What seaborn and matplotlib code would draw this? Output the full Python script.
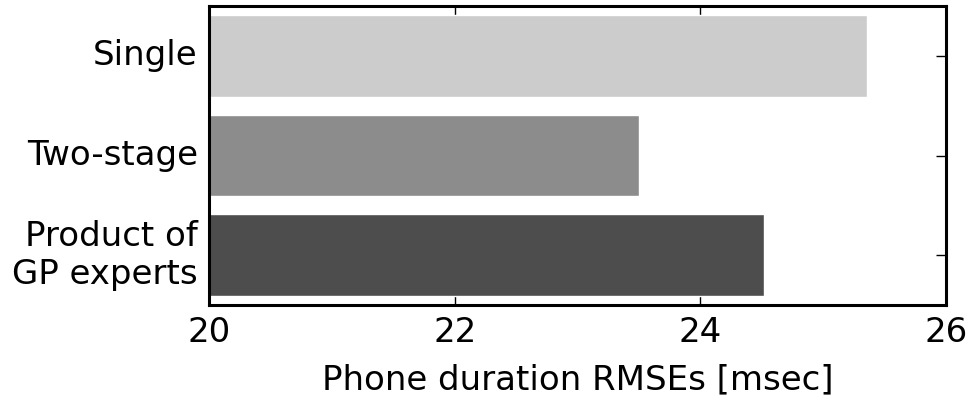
import matplotlib
matplotlib.use("Agg")
import matplotlib.pyplot as plt
import seaborn as sns
import pandas as pd

# RMSE of phone duration prediction for each modelling approach
methods = ["Single", "Two-stage", "Product of\nGP experts"]
rmse = [25.36, 23.50, 24.52]
bar_colors = ["#cccccc", "#8c8c8c", "#4d4d4d"]
x_ticks = [20, 22, 24, 26]

sns.set_style("white")
plt.rcParams["font.family"] = ["DejaVu Sans"]
plt.rcParams.update({
    "text.color": "black",
    "axes.labelcolor": "black",
    "xtick.color": "black",
    "ytick.color": "black",
})

df = pd.DataFrame({"method": methods, "rmse": rmse})

fig = plt.figure(figsize=(9.71, 4.0), dpi=100)
ax = fig.add_axes([0.2152, 0.2375, 0.7591, 0.7475])

sns.barplot(data=df, x="rmse", y="method", hue="method", palette=bar_colors,
            orient="h", width=0.82, saturation=1, legend=False, ax=ax)

ax.set_xlim(20, 26)
ax.set_ylim(2.5, -0.5)
ax.set_xticks(x_ticks)
ax.set_xticklabels([str(t) for t in x_ticks])
ax.set_xlabel("Phone duration RMSEs [msec]", fontsize=24.5, labelpad=10,
              color="black")
ax.set_ylabel("")

for s in ax.spines.values():
    s.set_visible(True)
    s.set_linewidth(2.2)
    s.set_color("black")
    s.set_zorder(5)

ax.tick_params(axis="both", which="major", direction="in", length=7.5, width=1,
               color="black", labelcolor="black", labelsize=24.5, pad=8,
               top=True, right=True, bottom=True, left=True)
for t in ax.get_yticklabels():
    t.set_multialignment("right")
    t.set_verticalalignment("center")
for line in ax.get_xticklines() + ax.get_yticklines():
    line.set_zorder(6)

fig.savefig("out.png", dpi=100)
